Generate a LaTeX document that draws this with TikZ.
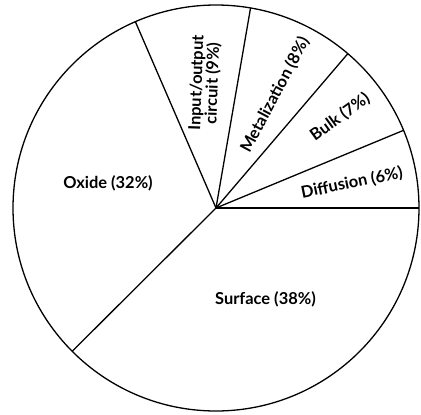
\documentclass[tikz,border=0pt]{standalone}
\usepackage{fontspec}
\setmainfont{Lato}
\begin{document}
\begin{tikzpicture}[x=1bp,y=-1bp,
  pieline/.style={line width=1.3bp, black},
  lbl/.style={font=\bfseries\fontsize{16.5}{16}\selectfont, inner sep=0pt, align=center}]
\useasboundingbox (0,0) rectangle (421,415);
\coordinate (c) at (216,208);
\def\R{203}
\draw[pieline] (c) circle[radius=\R];
\foreach \a in {0,22.5,49.5,80.2,113.4,224.9}{
  \draw[pieline] (c) -- ++(-\a:\R);
}
\node[lbl] (oxide) at (108,183) {Oxide (32\%)};
\node[lbl] (surface) at (265.5,299) {Surface (38\%)};
\node[lbl, rotate=11.5] (diff) at (352,183) {Diffusion (6\%)};
\node[lbl, rotate=36] (bulk) at (340,117) {Bulk (7\%)};
\node[lbl, rotate=62] (metal) at (275,95) {Metalization (8\%)};
\node[lbl, rotate=88, align=center] (io) at (205,83) {Input/output\\circuit (9\%)};
\end{tikzpicture}
\end{document}
